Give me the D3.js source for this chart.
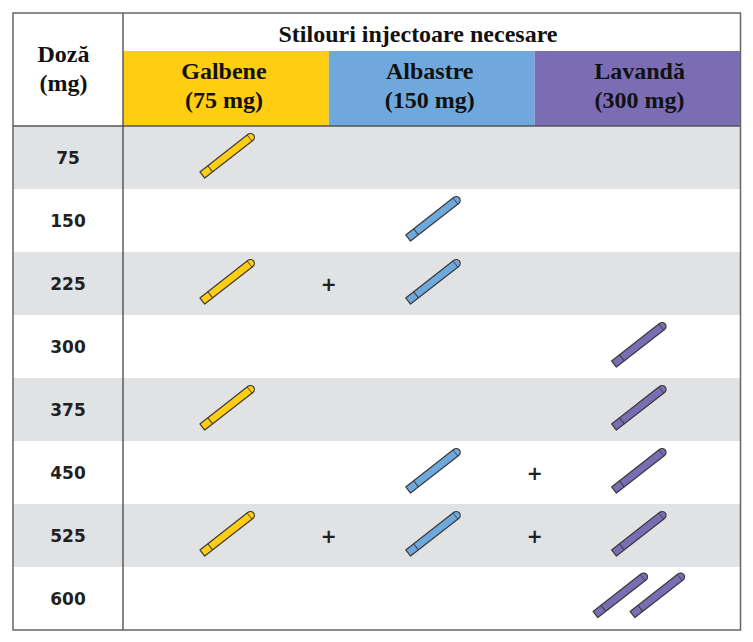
<!DOCTYPE html>
<html>
<head>
<meta charset="utf-8">
<script src="https://cdn.jsdelivr.net/npm/d3@7"></script>
<style>
  html, body { margin: 0; padding: 0; background: #fff; }
  svg { display: block; }
</style>
</head>
<body>
<svg id="chart" width="753" height="642"></svg>
<script>
// ---- data ----
const doses = [75, 150, 225, 300, 375, 450, 525, 600];
const penTypes = ["Galbene", "Albastre", "Lavandă"];
const penStrengths = ["(75 mg)", "(150 mg)", "(300 mg)"];
const yellowPens = [1, 0, 1, 0, 1, 0, 1, 0];
const bluePens = [0, 1, 1, 0, 0, 1, 1, 0];
const lavenderPens = [0, 0, 0, 1, 1, 1, 1, 2];
const headerTitle = "Stilouri injectoare necesare";
const doseHeader = ["Doză", "(mg)"];

const penCounts = [yellowPens, bluePens, lavenderPens];
const penColors = ["#FFCD11", "#6FA8DC", "#7B6DB4"];

// ---- layout ----
const svg = d3.select("#chart");
const tLeft = 13, tRight = 740.5, tTop = 13, tBottom = 630;
const divX = 123;
const bandTop = 51, headBottom = 126;
const labelShift = [-2, -2, 2];

const y = d3.scaleBand().domain(doses).range([headBottom, tBottom]).padding(0);
const x = d3.scaleBand().domain(penTypes).range([divX, tRight]).padding(0);

// rows
svg.append("g").selectAll("rect")
  .data(doses)
  .join("rect")
  .attr("x", tLeft)
  .attr("y", d => y(d))
  .attr("width", tRight - tLeft)
  .attr("height", y.bandwidth())
  .attr("fill", (d, i) => i % 2 === 0 ? "#E1E2E4" : "#FFFFFF");

// colored header bands
svg.append("g").selectAll("rect")
  .data(penTypes)
  .join("rect")
  .attr("x", d => x(d))
  .attr("y", bandTop)
  .attr("width", x.bandwidth())
  .attr("height", headBottom - bandTop)
  .attr("fill", (d, i) => penColors[i]);

// header texts
const serif = "'Liberation Serif', 'Times New Roman', serif";
const hSize = 24;
svg.append("text")
  .attr("x", 418)
  .attr("y", 42)
  .attr("text-anchor", "middle")
  .attr("font-family", serif)
  .attr("font-weight", "bold")
  .attr("font-size", hSize)
  .attr("fill", "#111")
  .text(headerTitle);

const hdr = svg.append("g").selectAll("g")
  .data(penTypes)
  .join("g");
hdr.append("text")
  .attr("x", (d, i) => x(d) + x.bandwidth() / 2 + labelShift[i])
  .attr("y", 79)
  .attr("text-anchor", "middle")
  .attr("font-family", serif)
  .attr("font-weight", "bold")
  .attr("font-size", hSize)
  .attr("fill", "#111")
  .text(d => d);
hdr.append("text")
  .attr("x", (d, i) => x(d) + x.bandwidth() / 2 + labelShift[i])
  .attr("y", 107.5)
  .attr("text-anchor", "middle")
  .attr("font-family", serif)
  .attr("font-weight", "bold")
  .attr("font-size", hSize)
  .attr("fill", "#111")
  .text((d, i) => penStrengths[i]);

svg.append("g").selectAll("text")
  .data(doseHeader)
  .join("text")
  .attr("x", 63.5)
  .attr("y", (d, i) => 62 + i * 29)
  .attr("text-anchor", "middle")
  .attr("font-family", serif)
  .attr("font-weight", "bold")
  .attr("font-size", hSize)
  .attr("fill", "#111")
  .text(d => d);

// dose labels
svg.append("g").selectAll("text")
  .data(doses)
  .join("text")
  .attr("x", 68)
  .attr("y", d => y(d) + y.bandwidth() / 2 + 6)
  .attr("text-anchor", "middle")
  .attr("font-family", "'DejaVu Sans', Verdana, sans-serif")
  .attr("font-weight", "bold")
  .attr("font-size", 17)
  .attr("fill", "#231F20")
  .text(d => d);

// pens
const L = 65, hw = 3.9;
function penOutline() {
  const a = -L / 2, b = L / 2;
  return `M${a},${-hw} L${b - hw},${-hw} A${hw},${hw} 0 0 1 ${b - hw},${hw} L${a},${hw} Z`;
}
const pens = [];
doses.forEach((d, r) => {
  penTypes.forEach((t, c) => {
    const n = penCounts[c][r];
    for (let k = 0; k < n; k++) {
      const off = n === 1 ? 0 : (k - (n - 1) / 2) * 37;
      pens.push({ dose: d, type: t, c, off, n });
    }
  });
});
const penG = svg.append("g").selectAll("g")
  .data(pens)
  .join("g")
  .attr("transform", d => `translate(${x(d.type) + x.bandwidth() / 2 + 2 + d.off},${y(d.dose) + y.bandwidth() / 2 - (d.n > 1 ? 4 : 2.5)}) rotate(-38)`);
penG.append("path")
  .attr("d", penOutline())
  .attr("fill", d => penColors[d.c])
  .attr("stroke", "#3A3A3A")
  .attr("stroke-width", 1.2)
  .attr("stroke-linejoin", "round");
penG.append("line")
  .attr("x1", -L / 2 + 10).attr("x2", -L / 2 + 10)
  .attr("y1", -hw).attr("y2", hw)
  .attr("stroke", "#3A3A3A").attr("stroke-width", 1);
penG.append("line")
  .attr("x1", L / 2 - 5).attr("x2", L / 2 - 5)
  .attr("y1", -hw).attr("y2", hw)
  .attr("stroke", "#3A3A3A").attr("stroke-width", 0.8);

// plus signs between adjacent non-empty columns
const pluses = [];
doses.forEach((d, r) => {
  for (let c = 0; c < penTypes.length - 1; c++) {
    if (penCounts[c][r] > 0 && penCounts[c + 1][r] > 0) {
      pluses.push({ dose: d, boundary: x(penTypes[c + 1]) });
    }
  }
});
svg.append("g").selectAll("text")
  .data(pluses)
  .join("text")
  .attr("x", d => d.boundary)
  .attr("y", d => y(d.dose) + y.bandwidth() / 2 + 7)
  .attr("text-anchor", "middle")
  .attr("font-family", "'DejaVu Sans', sans-serif")
  .attr("font-weight", "bold")
  .attr("font-size", 19)
  .attr("fill", "#231F20")
  .text("+");

// lines
svg.append("line")
  .attr("x1", tLeft).attr("x2", tRight)
  .attr("y1", headBottom).attr("y2", headBottom)
  .attr("stroke", "#555").attr("stroke-width", 1.5);
svg.append("line")
  .attr("x1", divX).attr("x2", divX)
  .attr("y1", tTop).attr("y2", tBottom)
  .attr("stroke", "#444").attr("stroke-width", 1.3);
svg.append("rect")
  .attr("x", tLeft).attr("y", tTop)
  .attr("width", tRight - tLeft).attr("height", tBottom - tTop)
  .attr("fill", "none")
  .attr("stroke", "#666").attr("stroke-width", 1.5);
</script>
</body>
</html>
